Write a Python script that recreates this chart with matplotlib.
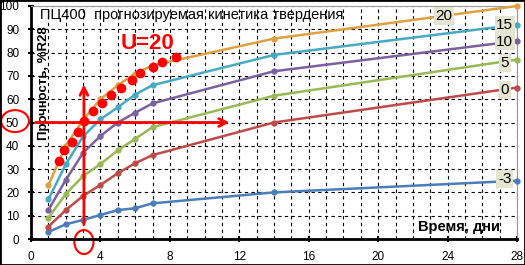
import matplotlib
matplotlib.use('Agg')
import matplotlib.pyplot as plt
from matplotlib.patches import Ellipse, Rectangle

plt.rcParams['font.family'] = ['Liberation Sans', 'DejaVu Sans']

# данные: сутки и прочность (%R28) для каждой температуры
days = [1, 2, 3, 4, 5, 6, 7, 14, 28]
t_m3 = [3, 6.3, 8.2, 10.3, 12.4, 13.2, 15.3, 20, 25]
t_0 = [5.3, 12.4, 18.5, 23.2, 28.2, 32.5, 36, 50, 65]
t_5 = [9, 19.3, 27, 32.2, 38, 43, 48, 61.5, 77]
t_10 = [12.4, 25.3, 37, 44.2, 50, 54.2, 58.2, 72, 85]
t_15 = [17, 32, 44, 51.4, 56.5, 62, 66, 79, 92]
t_20 = [23, 40, 51, 60, 66, 71, 74.5, 86, 100]
series_names = ['-3', '0', '5', '10', '15', '20']

# красные точки U=20
u_days = [1.63, 1.92, 2.34, 2.69, 3.05, 3.59, 4.07, 4.59, 5.18, 5.8, 6.3, 7.0, 7.56, 8.34]
u_vals = [33.5, 38.2, 41.8, 46.1, 50.6, 55.1, 58.5, 61.8, 64.7, 68.2, 71.1, 73.8, 75.8, 78.2]

colors = ['#4a7ebb', '#be4b48', '#98b954', '#7d60a0', '#46aac5', '#e0a040']
label_pos = [(27.3, 25.8), (27.3, 64), (27.3, 75.4), (27.3, 84.7), (27.3, 92), (23.8, 95.7)]

fig = plt.figure(figsize=(5.25, 2.65), dpi=100)
ax = fig.add_axes([31 / 525, 26 / 265, 486 / 525, 233 / 265])

ax.set_xlim(0, 28)
ax.set_ylim(0, 100)
ax.set_xticks(range(0, 29, 4))
ax.set_xticks(range(0, 29), minor=True)
ax.set_yticks(range(0, 101, 10))
ax.grid(True, which='both', axis='x', color='black', linestyle=(0, (3, 3)), linewidth=0.8)
ax.grid(True, which='major', axis='y', color='black', linestyle=(0, (3, 3)), linewidth=0.8)
ax.tick_params(axis='x', which='minor', length=0)
ax.tick_params(axis='both', which='major', direction='inout', length=5, width=1.5,
               labelsize=8.5, pad=6)
ax.set_axisbelow(True)

for s in ['left', 'bottom']:
    ax.spines[s].set_linewidth(2)
for s in ['top', 'right']:
    ax.spines[s].set_color('#999999')

for vals, name, c, pos in zip([t_m3, t_0, t_5, t_10, t_15, t_20], series_names, colors, label_pos):
    ax.plot(days, vals, color=c, linewidth=1.8, marker='o', markersize=3.5, clip_on=False, zorder=3)
    ax.text(pos[0], pos[1], name, fontsize=11, ha='center', va='center', zorder=4,
            bbox=dict(boxstyle='square,pad=0.12', facecolor='#e4e4d0', edgecolor='none'))

ax.plot(u_days, u_vals, 'o', color='#ff0000', markersize=6, zorder=5)

ax.text(0.5, 96, 'ПЦ400  прогнозируемая кинетика твердения', fontsize=10.5, va='center', ha='left')
ax.text(0.75, 67, 'Прочность, %R28', rotation=90, fontsize=9.5, fontweight='bold', va='center', ha='center')
ax.text(27, 5, 'Время, дни', fontsize=10.5, fontweight='bold', ha='right', va='center')
ax.text(6.7, 84, 'U=20', fontsize=16, fontweight='bold', color='#ff0000', ha='center', va='center')

# красные стрелки и эллипсы
ax.annotate('', xy=(11.6, 50), xytext=(0.1, 50),
            arrowprops=dict(arrowstyle='->', color='#ff0000', lw=2, mutation_scale=14))
ax.annotate('', xy=(3.05, 67.5), xytext=(3.05, 5),
            arrowprops=dict(arrowstyle='->', color='#ff0000', lw=2, mutation_scale=14))
ax.add_patch(Ellipse((-0.92, 50.6), 1.6, 9.4, fill=False, edgecolor='#ff0000', lw=1.5, clip_on=False))
ax.add_patch(Ellipse((3.05, -1.3), 1.1, 10.3, fill=False, edgecolor='#ff0000', lw=1.5, clip_on=False))

fig.patches.append(Rectangle((0, 0), 1, 1, transform=fig.transFigure, fill=False,
                             edgecolor='black', linewidth=2))

fig.savefig('out.png', dpi=100)
